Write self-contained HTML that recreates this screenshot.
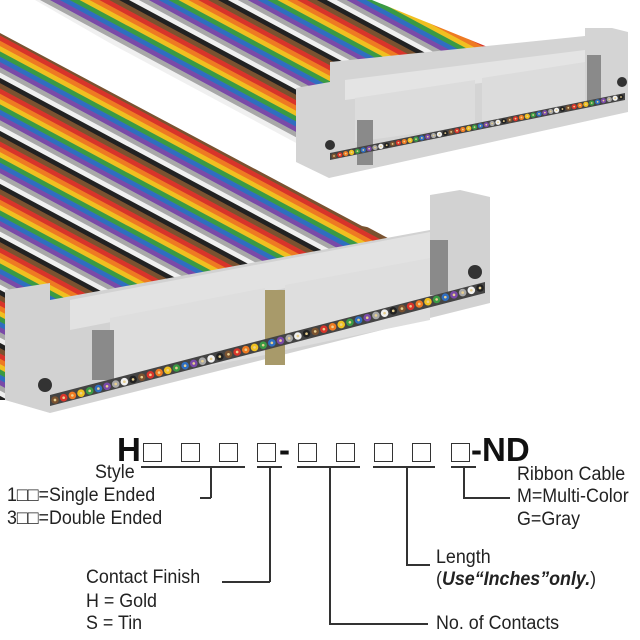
<!DOCTYPE html>
<html><head><meta charset="utf-8"><style>
html,body{margin:0;padding:0;background:#fff;overflow:hidden;width:640px;height:640px}
#w{position:relative;width:640px;height:640px;overflow:hidden;font-family:"Liberation Sans",sans-serif}
.t{position:absolute;font-size:19px;color:#222;white-space:nowrap;line-height:20px;transform:scaleX(0.94);transform-origin:0 0}
.b{position:absolute;width:17px;height:17px;border:1.5px solid #333;top:443px}
.l{position:absolute;background:#333}
.h{position:absolute;top:432px;font-size:33px;line-height:36px;font-weight:bold;color:#111}
</style></head><body><div id="w">
<svg id="s" width="640" height="430" style="position:absolute;left:0;top:0">
<defs>
<clipPath id="cu"><polygon points="35,0 372,0 500,52 300,142 296,150"/></clipPath>
<clipPath id="cl"><polygon points="0,33 362,226 430,240 20,400 0,400"/></clipPath>
</defs>
<g id="gu" clip-path="url(#cu)"></g>
<g id="gl" clip-path="url(#cl)"></g>
<polygon points="296,88 330,82 330,62 585,36 585,28 612,28 628,32 628,112 329,178 296,162" fill="#d4d4d4"/>
<polygon points="345,80 585,50 585,70 345,100" fill="#e4e4e4"/>
<polygon points="355,98 475,80 475,125 355,142" fill="#dcdcdc"/>
<polygon points="482,78 585,62 585,107 482,122" fill="#dcdcdc"/>
<rect x="357" y="120" width="16" height="45" fill="#8a8a8a"/>
<rect x="587" y="55" width="14" height="50" fill="#8a8a8a"/>
<polygon points="330,153 625,93 625,100 330,160" fill="#444"/>
<g id="du"></g>
<circle cx="330" cy="145" r="5" fill="#333"/><circle cx="622" cy="82" r="5" fill="#333"/>
<polygon points="5,290 50,283 50,300 430,230 430,195 460,190 490,197 490,303 50,413 5,400" fill="#d2d2d2"/>
<polygon points="70,300 430,232 430,260 70,330" fill="#e2e2e2"/>
<polygon points="110,318 265,288 265,355 110,385" fill="#dedede"/>
<polygon points="285,285 430,258 430,320 285,350" fill="#dedede"/>
<rect x="92" y="330" width="22" height="50" fill="#8a8a8a"/>
<rect x="430" y="240" width="18" height="55" fill="#8a8a8a"/>
<rect x="265" y="290" width="20" height="75" fill="#a89a6a"/>
<polygon points="50,395 485,282 485,293 50,406" fill="#444"/>
<g id="dl"></g>
<circle cx="45" cy="385" r="7" fill="#333"/><circle cx="475" cy="272" r="7" fill="#333"/>
</svg>

<div class="h" style="left:117px">H</div>
<div class="b" style="left:143px"></div><div class="b" style="left:181px"></div><div class="b" style="left:219px"></div><div class="b" style="left:257px"></div>
<div class="h" style="left:279px">-</div>
<div class="b" style="left:298px"></div><div class="b" style="left:336px"></div><div class="b" style="left:374px"></div><div class="b" style="left:412px"></div><div class="b" style="left:451px"></div>
<div class="h" style="left:471px">-ND</div>

<div class="l" style="left:141px;top:466px;width:104px;height:1.5px"></div>
<div class="l" style="left:257px;top:466px;width:25px;height:1.5px"></div>
<div class="l" style="left:297px;top:466px;width:63px;height:1.5px"></div>
<div class="l" style="left:373px;top:466px;width:62px;height:1.5px"></div>
<div class="l" style="left:451px;top:466px;width:25px;height:1.5px"></div>

<div class="l" style="left:210px;top:466px;width:1.5px;height:32px"></div>
<div class="l" style="left:200px;top:497px;width:11px;height:1.5px"></div>
<div class="l" style="left:269px;top:466px;width:1.5px;height:116px"></div>
<div class="l" style="left:222px;top:581px;width:48px;height:1.5px"></div>
<div class="l" style="left:329px;top:466px;width:1.5px;height:158px"></div>
<div class="l" style="left:329px;top:623px;width:99px;height:1.5px"></div>
<div class="l" style="left:406px;top:466px;width:1.5px;height:99px"></div>
<div class="l" style="left:406px;top:564px;width:24px;height:1.5px"></div>
<div class="l" style="left:463px;top:466px;width:1.5px;height:32px"></div>
<div class="l" style="left:463px;top:497px;width:47px;height:1.5px"></div>

<div class="t" style="left:95px;top:463px">Style</div>
<div class="t" style="left:7px;top:486px">1□□=Single Ended</div>
<div class="t" style="left:7px;top:509px">3□□=Double Ended</div>
<div class="t" style="left:86px;top:568px">Contact Finish</div>
<div class="t" style="left:86px;top:592px">H = Gold</div>
<div class="t" style="left:86px;top:614px">S = Tin</div>
<div class="t" style="left:436px;top:548px">Length</div>
<div class="t" style="left:436px;top:570px">(<b><i>Use“Inches”only.</i></b>)</div>
<div class="t" style="left:436px;top:614px">No. of Contacts</div>
<div class="t" style="left:517px;top:465px">Ribbon Cable</div>
<div class="t" style="left:517px;top:487px">M=Multi-Color</div>
<div class="t" style="left:517px;top:510px">G=Gray</div>
</div>
<script>
var cols=["#7a5230","#d8342a","#ee7a22","#f0c020","#3a9a44","#2f6ec0","#7a4aa8","#a8a8a8","#f0f0f0","#222"];
var NS="http://www.w3.org/2000/svg";
function stripes(id,c0,c1){var g=document.getElementById(id),i=0;
for(var c=c0;c<c1;c+=5.3){var l=document.createElementNS(NS,"line");
l.setAttribute("x1",-10);l.setAttribute("y1",c-5.36);l.setAttribute("x2",700);l.setAttribute("y2",c+0.536*700);
l.setAttribute("stroke",cols[i%10]);l.setAttribute("stroke-width",5);g.appendChild(l);i++;}}
stripes("gu",-220,-15);stripes("gl",33,700);
function dots(id,x0,y0,x1,y1,n,r){var g=document.getElementById(id);
for(var i=0;i<n;i++){var x=x0+(x1-x0)*i/(n-1),y=y0+(y1-y0)*i/(n-1);
var c=document.createElementNS(NS,"circle");c.setAttribute("cx",x);c.setAttribute("cy",y);c.setAttribute("r",r);
c.setAttribute("fill",cols[i%10]);g.appendChild(c);
var d=document.createElementNS(NS,"circle");d.setAttribute("cx",x);d.setAttribute("cy",y);d.setAttribute("r",r*0.35);d.setAttribute("fill","#e8d090");g.appendChild(d);}}
dots("du",334,156,621,97,50,2.6);dots("dl",55,400,480,288,50,3.8);
</script>
</body></html>
